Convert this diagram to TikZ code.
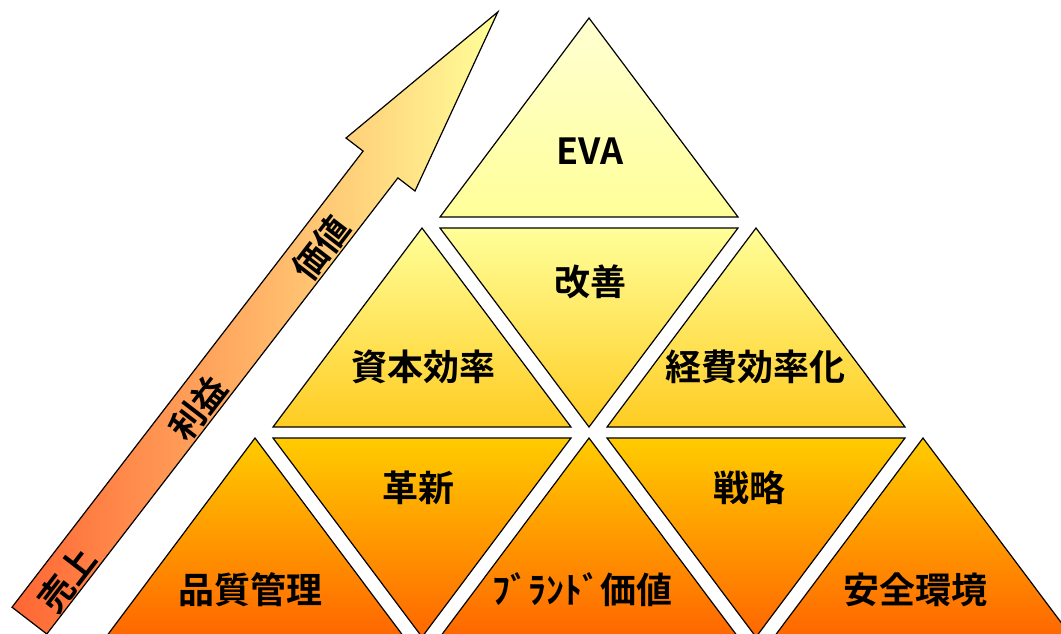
\documentclass[tikz,border=0pt]{standalone}
\usepackage{fontspec}
\setmainfont{Noto Sans CJK JP}[BoldFont={Noto Sans CJK JP Bold}]
\definecolor{rowAtop}{HTML}{FFFFD2}
\definecolor{rowAbot}{HTML}{FFFF99}
\definecolor{rowBtop}{HTML}{FFFF99}
\definecolor{rowBbot}{HTML}{FFCC22}
\definecolor{rowCtop}{HTML}{FFCC00}
\definecolor{rowCbot}{HTML}{FF6600}
\definecolor{arrL}{HTML}{FF6633}
\definecolor{arrR}{HTML}{FFFF99}
\begin{document}
\begin{tikzpicture}[x=0.75pt,y=-0.75pt,
  tri/.style={draw=black,line width=0.9pt,line join=miter},
  rowA/.style={tri,top color=rowAtop,bottom color=rowAbot},
  rowB/.style={tri,top color=rowBtop,bottom color=rowBbot},
  rowC/.style={tri,top color=rowCtop,bottom color=rowCbot},
  lbl/.style={font=\fontsize{27}{27}\selectfont\bfseries,inner sep=0pt},
  arrlbl/.style={font=\fontsize{26}{26}\selectfont\bfseries,inner sep=0pt,rotate=52.4}]
\useasboundingbox (0,0) rectangle (1061,633);
\clip (0,0) rectangle (1061,633);
% row 0
\shade[rowA] (589,18) -- (738,217) -- (440,217) -- cycle;
% row 1
\shade[rowB] (422,228) -- (571,427) -- (273,427) -- cycle;
\shade[rowB] (440,228) -- (738,228) -- (589,427) -- cycle;
\shade[rowB] (756,228) -- (905,427) -- (607,427) -- cycle;
% row 2
\shade[rowC] (255,438) -- (404,637) -- (106,637) -- cycle;
\shade[rowC] (273,438) -- (571,438) -- (422,637) -- cycle;
\shade[rowC] (589,438) -- (738,637) -- (440,637) -- cycle;
\shade[rowC] (607,438) -- (905,438) -- (756,637) -- cycle;
\shade[rowC] (923,438) -- (1072,637) -- (774,637) -- cycle;
% arrow
\shade[draw=black,line width=0.9pt,line join=miter,left color=arrL,right color=arrR]
  (12,607.2) -- (363.1,151.1) -- (346,138) -- (497.9,11.9) -- (415,191)
  -- (397.9,177.9) -- (46.8,634) -- cycle;
% labels
\node[lbl] (eva) at (590,151) {EVA};
\node[lbl] (kaizen) at (590,282) {改善};
\node[lbl] (shihon) at (423,367) {資本効率};
\node[lbl] (keihi) at (755,367) {経費効率化};
\node[lbl] (kakushin) at (418,488) {革新};
\node[lbl] (senryaku) at (749,488) {戦略};
\node[lbl] (hinshitsu) at (250,590) {品質管理};
\node[lbl] (brand) at (582,590) {ﾌﾞﾗﾝﾄﾞ価値};
\node[lbl] (anzen) at (915,590) {安全環境};
\node[arrlbl] (uriage) at (67,580) {売上};
\node[arrlbl] (rieki) at (198,408) {利益};
\node[arrlbl] (kachi) at (321,248) {価値};
\end{tikzpicture}
\end{document}
